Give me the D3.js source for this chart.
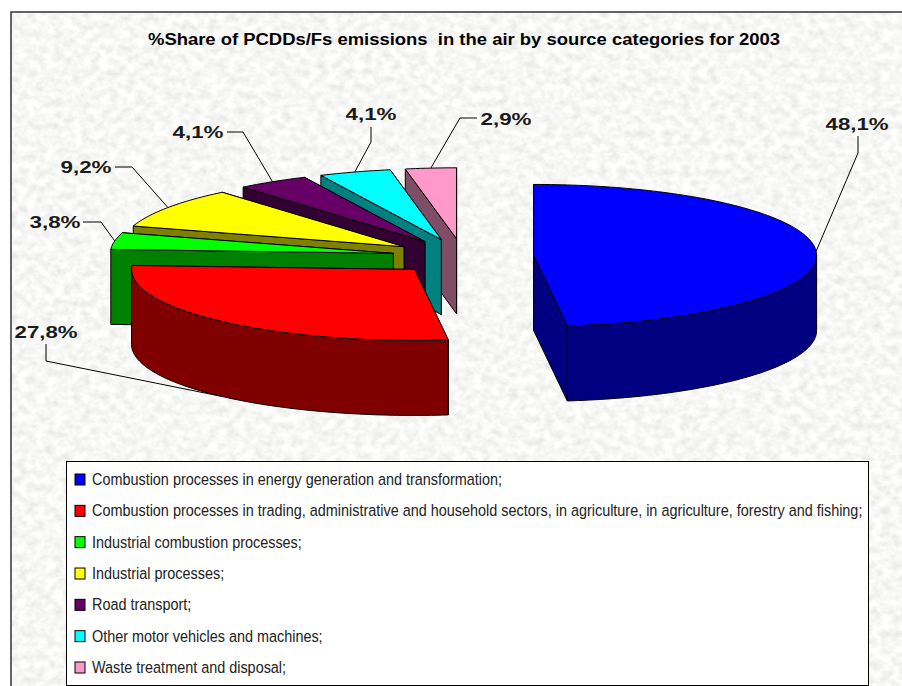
<!DOCTYPE html>
<html>
<head>
<meta charset="utf-8">
<script src="https://cdn.jsdelivr.net/npm/d3@7"></script>
<style>
html,body{margin:0;padding:0;background:#fff;}
svg{display:block;}
text{white-space:pre;}
</style>
</head>
<body>
<svg id="chart" width="902" height="686"></svg>
<script>
// ---- data ----
const chartTitle = "%Share of PCDDs/Fs emissions  in the air by source categories for 2003";
const categories = [
  "Combustion processes in energy generation and transformation;",
  "Combustion processes in trading, administrative and household sectors, in agriculture, in agriculture, forestry and fishing;",
  "Industrial combustion processes;",
  "Industrial processes;",
  "Road transport;",
  "Other motor vehicles and machines;",
  "Waste treatment and disposal;"
];
const shares = [48.1, 27.8, 3.8, 9.2, 4.1, 4.1, 2.9];
const shareLabels = ["48,1%", "27,8%", "3,8%", "9,2%", "4,1%", "4,1%", "2,9%"];
const colors = ["#0000FF", "#FF0000", "#00FF00", "#FFFF00", "#660066", "#00FFFF", "#FF99CC"];

// ---- layout (separate from the data) ----
const W = 902, H = 686;
const pieCx = 463, pieCy = 256.5, rx = 283, ry = 71, depth = 75, explode = 0.25;
// label anchor (centre x, baseline y), and leader elbow for every slice
const labelLayout = [
  {x: 857, y: 130, ex: 858, ey: 153, sx: 858, sy: 136},
  {x: 46,  y: 338, ex: 46,  ey: 361, sx: 46,  sy: 344},
  {x: 55,  y: 228, ex: 101, ey: 222, sx: 83,  sy: 222},
  {x: 86,  y: 173, ex: 132, ey: 167, sx: 115, sy: 167},
  {x: 198, y: 138, ex: 243, ey: 132, sx: 227, sy: 132},
  {x: 371, y: 120, ex: 371, ey: 142, sx: 371, sy: 127},
  {x: 506, y: 125, ex: 460, ey: 118, sx: 477, sy: 118}
];

const svg = d3.select("#chart");

// ---- projection of the tilted pie through scales ----
const xUnit = d3.scaleLinear().domain([-1, 1]).range([-rx, rx]);
const yUnit = d3.scaleLinear().domain([-1, 1]).range([-ry, ry]);
const project = (cx, cy, a, r = 1) => [cx + xUnit(Math.sin(a) * r), cy + yUnit(-Math.cos(a) * r)];

const pie = d3.pie().sort(null).startAngle(0).endAngle(2 * Math.PI);
const arcs = pie(shares).map((d, i) => {
  const mid = (d.startAngle + d.endAngle) / 2;
  const [cx, cy] = project(pieCx, pieCy, mid, explode);
  return {...d, i, mid, cx, cy, color: colors[i]};
});
const wallColor = c => { const k = d3.rgb(c); return d3.rgb(k.r / 2, k.g / 2, k.b / 2).formatHex(); };
const line = d3.line();
const sampleArc = (s, a0, a1) => {
  const n = Math.max(2, Math.ceil((a1 - a0) / 0.02));
  return d3.range(n + 1).map(k => project(s.cx, s.cy, a0 + (a1 - a0) * k / n));
};

// ---- background texture ----
const defs = svg.append("defs");
const noise = defs.append("filter").attr("id", "paper")
  .attr("x", 0).attr("y", 0).attr("width", "100%").attr("height", "100%");
noise.append("feTurbulence").attr("type", "fractalNoise").attr("baseFrequency", "0.11 0.13")
  .attr("numOctaves", 3).attr("seed", 7).attr("result", "n");
noise.append("feColorMatrix").attr("in", "n").attr("type", "matrix")
  .attr("values", "0.34 0 0 0 0.76  0.34 0 0 0 0.76  0.34 0 0 0 0.75  0 0 0 0 1");

svg.append("rect").attr("width", W).attr("height", H).attr("fill", "#fff");
svg.append("rect").attr("x", 11).attr("y", 12).attr("width", W - 11).attr("height", H - 12)
  .attr("fill", "#eeeeec").attr("filter", "url(#paper)");
svg.append("path").attr("d", `M11 ${H}V12H${W}`).attr("fill", "none")
  .attr("stroke", "#333").attr("stroke-width", 1.5);

// ---- title ----
svg.append("text").attr("x", 148).attr("y", 45)
  .attr("font-family", "'Liberation Sans', Arial, sans-serif").attr("font-weight", "bold")
  .attr("font-size", 16).attr("fill", "#000")
  .attr("textLength", 632).attr("lengthAdjust", "spacingAndGlyphs").text(chartTitle);

// ---- leaders, drawn behind the slices ----
const leaderG = svg.append("g");
arcs.forEach(s => {
  const l = labelLayout[s.i];
  const tip = project(s.cx, s.cy, s.mid);
  const front = Math.cos(s.mid) < 0 && s.i === 1;
  if (front) tip[1] += depth;
  leaderG.append("path").attr("fill", "none").attr("stroke", "#000").attr("stroke-width", 1)
    .attr("d", line([[l.sx, l.sy], [l.ex, l.ey], tip]));
});

// ---- slices, back to front ----
const order = [6, 5, 4, 3, 2, 1, 0];
const sliceG = svg.append("g").attr("stroke", "#000").attr("stroke-width", 1).attr("stroke-linejoin", "round");
order.forEach(i => {
  const s = arcs[i];
  const g = sliceG.append("g");
  const dark = wallColor(s.color);
  const wall = a => {
    const p = project(s.cx, s.cy, a);
    return [[s.cx, s.cy], p, [p[0], p[1] + depth], [s.cx, s.cy + depth]];
  };
  const walls = [s.startAngle, s.endAngle].sort((a, b) => project(s.cx, s.cy, a)[1] - project(s.cx, s.cy, b)[1]);
  walls.forEach(a => g.append("path").attr("fill", dark).attr("d", line(wall(a)) + "Z"));
  // outer rim: only the part of the circle facing the viewer
  const a0 = Math.max(s.startAngle, Math.PI / 2), a1 = Math.min(s.endAngle, 3 * Math.PI / 2);
  if (a1 > a0) {
    const top = sampleArc(s, a0, a1);
    const bottom = top.map(p => [p[0], p[1] + depth]).reverse();
    g.append("path").attr("fill", dark).attr("d", line(top.concat(bottom)) + "Z");
  }
  const rim = sampleArc(s, s.startAngle, s.endAngle);
  g.append("path").attr("fill", s.color).attr("d", line([[s.cx, s.cy], ...rim]) + "Z");
});

// ---- value labels (wide, bold) ----
const labelG = svg.append("g").attr("font-family", "'Liberation Sans', Arial, sans-serif")
  .attr("font-weight", "bold").attr("font-size", 16).attr("fill", "#1a1a1a");
arcs.forEach(s => {
  const l = labelLayout[s.i];
  const t = labelG.append("text").attr("text-anchor", "middle").text(shareLabels[s.i]);
  const w = t.node().getComputedTextLength();
  const target = shareLabels[s.i].length === 5 ? 63 : 51;
  t.attr("transform", `translate(${l.x},${l.y}) scale(${target / w},1)`);
});

// ---- legend ----
const legendX = 66, legendY = 461, legendW = 803, legendH = 224;
const legend = svg.append("g");
legend.append("rect").attr("x", legendX + .5).attr("y", legendY + .5)
  .attr("width", legendW - 1).attr("height", legendH).attr("fill", "#fff").attr("stroke", "#000");
const rowY = d3.scalePoint().domain(d3.range(categories.length)).range([479, 667]);
const rows = legend.selectAll("g").data(categories).join("g")
  .attr("transform", (d, i) => `translate(0,${rowY(i)})`);
rows.append("rect").attr("x", 75).attr("y", -5).attr("width", 10).attr("height", 11)
  .attr("fill", (d, i) => colors[i]).attr("stroke", "#000");
const legendText = rows.append("text")
  .attr("font-family", "'Liberation Sans', Arial, sans-serif").attr("font-size", 17).attr("fill", "#222").text(d => d);
const longest = d3.max(legendText.nodes(), n => n.getComputedTextLength());
legendText.attr("transform", `translate(92,6) scale(${771 / longest},1)`);
</script>
</body>
</html>
